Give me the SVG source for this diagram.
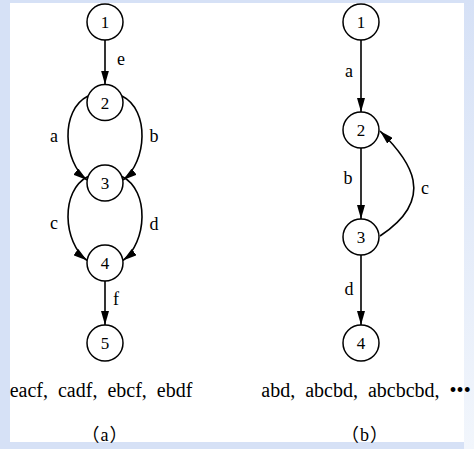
<svg xmlns="http://www.w3.org/2000/svg" width="474" height="449" viewBox="0 0 474 449">
<style>
.node circle{fill:#fff;stroke:#000;stroke-width:1.5}
.node text{font-size:17px;text-anchor:middle}
.edge{fill:none;stroke:#000;stroke-width:1.6;marker-end:url(#arr)}
.lbl{font-size:18px;text-anchor:middle}
.seq{font-size:20px;text-anchor:middle;word-spacing:5px}
.cap{font-size:18px;text-anchor:middle;letter-spacing:1px}
</style>
<defs>
<marker id="arr" markerUnits="userSpaceOnUse" viewBox="0 0 14 8" markerWidth="14" markerHeight="8" refX="14" refY="4" orient="auto">
<path d="M0,0 L14,4 L0,8 z" fill="#000"/>
</marker>
<linearGradient id="rb" x1="0" y1="0" x2="0" y2="1">
<stop offset="0" stop-color="#d6e1f6"/>
<stop offset="1" stop-color="#f2f6fc"/>
</linearGradient>
</defs>
<rect x="0" y="0" width="474" height="449" fill="#d6e1f6"/>
<rect x="464" y="0" width="10" height="449" fill="url(#rb)"/>
<rect x="10" y="3" width="454" height="439" fill="#fff"/>

<g id="connectors">
<path class="edge" d="M105,40 L105,84.5"/>
<path class="edge" d="M88,96 C60,110 63,162 87,180"/>
<path class="edge" d="M122,96 C150,110 147,162 123,180"/>
<path class="edge" d="M88,176.5 C60,190.5 63,242.5 87,260.5"/>
<path class="edge" d="M122,176.5 C150,190.5 147,242.5 123,260.5"/>
<path class="edge" d="M105,281 L105,325"/>
<path class="edge" d="M361,40 L361,112"/>
<path class="edge" d="M361,148 L361,219"/>
<path class="edge" d="M361,255 L361,325"/>
<path class="edge" d="M380,236 C438,198 410,160 380,131"/>
</g>

<g id="edge-labels" font-family="Liberation Serif, Times New Roman, DejaVu Serif, serif">
<text class="lbl" x="121" y="65">e</text>
<text class="lbl" x="54" y="142">a</text>
<text class="lbl" x="154" y="142">b</text>
<text class="lbl" x="54" y="229">c</text>
<text class="lbl" x="154" y="230">d</text>
<text class="lbl" x="116" y="305">f</text>
<text class="lbl" x="349" y="77">a</text>
<text class="lbl" x="348" y="184">b</text>
<text class="lbl" x="425" y="194">c</text>
<text class="lbl" x="349" y="295">d</text>
</g>

<g font-family="Liberation Serif, Times New Roman, DejaVu Serif, serif">
<g id="a1" class="node"><circle cx="105" cy="22" r="18"/><text x="105" y="28">1</text></g>
<g id="a2" class="node"><circle cx="105" cy="102.5" r="18"/><text x="105" y="108.5">2</text></g>
<g id="a3" class="node"><circle cx="105" cy="183" r="18"/><text x="105" y="189">3</text></g>
<g id="a4" class="node"><circle cx="105" cy="263" r="18"/><text x="105" y="269">4</text></g>
<g id="a5" class="node"><circle cx="105" cy="343" r="18"/><text x="105" y="349">5</text></g>
<g id="b1" class="node"><circle cx="361" cy="22" r="18"/><text x="361" y="28">1</text></g>
<g id="b2" class="node"><circle cx="361" cy="130" r="18"/><text x="361" y="136">2</text></g>
<g id="b3" class="node"><circle cx="361" cy="237" r="18"/><text x="361" y="243">3</text></g>
<g id="b4" class="node"><circle cx="361" cy="343" r="18"/><text x="361" y="349">4</text></g>
</g>

<g id="sequences" font-family="Liberation Serif, Times New Roman, DejaVu Serif, serif">
<text class="seq" x="101" y="397">eacf, cadf, ebcf, ebdf</text>
<text class="seq" x="366" y="397">abd, abcbd, abcbcbd, •••</text>
</g>
<g id="captions" font-family="Liberation Serif, Noto Sans CJK SC, serif">
<text class="cap" x="105" y="441">（a）</text>
<text class="cap" x="365" y="441">（b）</text>
</g>
</svg>
